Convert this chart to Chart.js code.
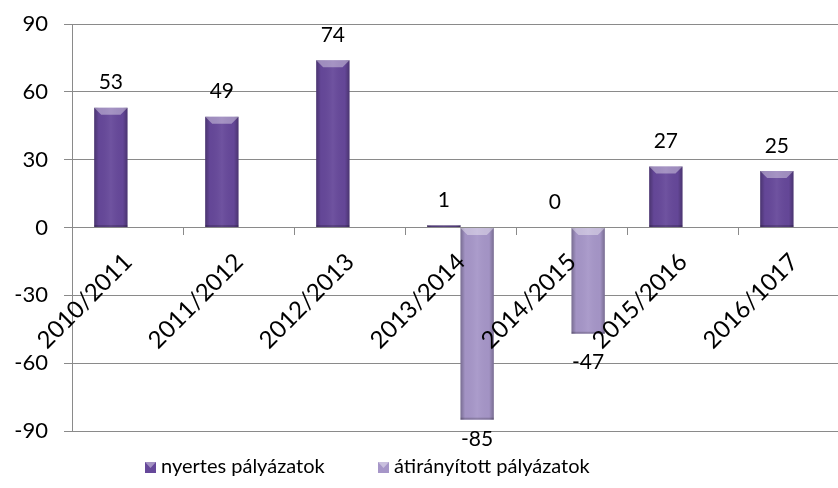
<!DOCTYPE html>
<html><head><meta charset="utf-8">
<script src="https://cdn.jsdelivr.net/npm/chart.js@4/dist/chart.umd.min.js"></script>
<style>html,body{margin:0;padding:0;overflow:hidden;background:#fff}#wrap{width:860px;height:488px;position:relative}</style>
</head><body><div id="wrap"><canvas id="c"></canvas></div>
<script>
const categories = ['2010/2011','2011/2012','2012/2013','2013/2014','2014/2015','2015/2016','2016/1017'];
const seriesNames = ['nyertes pályázatok','átirányított pályázatok'];
const nyertes = [53,49,74,1,0,27,25];
const atiranyitott = [null,null,null,-85,-47,null,null];
const yMin = -90, yMax = 90, yStep = 30;

const FONT = 'Lato, "Open Sans", sans-serif';
const darkCol = '#66489a';
const lightCol = '#a696c8';
const gridCol = '#8a8a8a';

const bevelPlugin = {
  id: 'bevel',
  afterDatasetsDraw(chart) {
    const ctx = chart.ctx;
    chart.data.datasets.forEach((ds, di) => {
      const meta = chart.getDatasetMeta(di);
      meta.data.forEach((el, i) => {
        if (ds.data[i] === null || ds.data[i] === undefined) return;
        const p = el.getProps(['x','y','base','width'], true);
        const l = p.x - p.width/2, r = p.x + p.width/2;
        const t = Math.min(p.y, p.base), b = Math.max(p.y, p.base);
        const h = b - t;
        if (h < 0.5) return;
        ctx.save();
        const g = ctx.createLinearGradient(l, 0, r, 0);
        g.addColorStop(0, 'rgba(0,0,0,0.28)');
        g.addColorStop(0.14, 'rgba(0,0,0,0.02)');
        g.addColorStop(0.5, 'rgba(255,255,255,0.06)');
        g.addColorStop(0.86, 'rgba(0,0,0,0.02)');
        g.addColorStop(1, 'rgba(0,0,0,0.28)');
        ctx.fillStyle = g;
        ctx.fillRect(l, t, r - l, h);
        const bv = Math.min(7, h/2);
        ctx.beginPath();
        ctx.moveTo(l, t); ctx.lineTo(r, t); ctx.lineTo(r - bv, t + bv); ctx.lineTo(l + bv, t + bv); ctx.closePath();
        ctx.fillStyle = 'rgba(255,255,255,0.38)';
        ctx.fill();
        ctx.fillStyle = 'rgba(0,0,0,0.18)';
        ctx.fillRect(l, b - 2, r - l, 2);
        ctx.restore();
      });
    });
  }
};

const labelPlugin = {
  id: 'labels',
  afterDatasetsDraw(chart) {
    const ctx = chart.ctx;
    const xs = chart.scales.x, ys = chart.scales.y;
    ctx.save();
    ctx.fillStyle = '#000';
    ctx.font = '21px ' + FONT;
    ctx.textAlign = 'center';
    ctx.textBaseline = 'middle';
    chart.data.datasets.forEach((ds, di) => {
      const meta = chart.getDatasetMeta(di);
      meta.data.forEach((el, i) => {
        const v = ds.data[i];
        if (v === null || v === undefined) return;
        const p = el.getProps(['x','y'], true);
        let y = v >= 0 ? p.y - 25 : Math.min(p.y + 28, chart.chartArea.bottom + 8);
        ctx.fillText(String(v), p.x, y);
      });
    });
    // category labels, rotated, hanging from the zero line
    const y0 = ys.getPixelForValue(0);
    ctx.font = '24px ' + FONT;
    categories.forEach((c, i) => {
      const x = xs.getPixelForValue(i);
      ctx.save();
      ctx.translate(x + 6, y0 + 36);
      ctx.rotate(-Math.PI/4);
      ctx.textAlign = 'right';
      ctx.textBaseline = 'alphabetic';
      ctx.fillText(c, 0, 0);
      ctx.restore();
    });
    ctx.restore();
  }
};

const legendPlugin = {
  id: 'customLegend',
  afterDraw(chart) {
    const ctx = chart.ctx;
    const xs = [145, 378];
    const cy = 467;
    ctx.save();
    ctx.font = '20px ' + FONT;
    ctx.textBaseline = 'middle';
    ctx.textAlign = 'left';
    chart.data.datasets.forEach((ds, i) => {
      const x = xs[i];
      ctx.fillStyle = ds.backgroundColor;
      ctx.fillRect(x, cy - 5, 11, 11);
      ctx.beginPath();
      ctx.moveTo(x, cy - 5); ctx.lineTo(x + 11, cy - 5); ctx.lineTo(x + 5.5, cy + 1); ctx.closePath();
      ctx.fillStyle = 'rgba(255,255,255,0.4)';
      ctx.fill();
      ctx.fillStyle = '#000';
      ctx.fillText(ds.label, x + 16, cy);
    });
    ctx.restore();
  }
};

new Chart(document.getElementById('c'), {
  type: 'bar',
  data: {
    labels: categories,
    datasets: [
      { label: seriesNames[0], data: nyertes, backgroundColor: darkCol, borderWidth: 0 },
      { label: seriesNames[1], data: atiranyitott, backgroundColor: lightCol, borderWidth: 0 }
    ]
  },
  options: {
    responsive: true,
    maintainAspectRatio: false,
    animation: false,
    categoryPercentage: 0.6,
    barPercentage: 1,
    layout: { padding: { left: 13, top: 24, right: 11, bottom: 57 } },
    plugins: { legend: { display: false }, tooltip: { enabled: false } },
    scales: {
      x: {
        position: { y: 0 },
        grid: { offset: true, drawOnChartArea: false, drawTicks: true, tickLength: 7, color: gridCol, lineWidth: 1 },
        border: { display: true, color: gridCol, width: 1 },
        ticks: { display: false },
        afterFit(s) { s.height = 0; s.paddingLeft = 0; s.paddingRight = 0; }
      },
      y: {
        min: yMin, max: yMax,
        ticks: { stepSize: yStep, color: '#000', font: { family: FONT, size: 22 }, padding: 16 },
        grid: { color: gridCol, lineWidth: 1, tickLength: 8 },
        border: { display: true, color: gridCol, width: 1 },
        afterFit(s) { s.width = 59; s.paddingTop = 10; s.paddingBottom = 10; }
      }
    }
  },
  plugins: [bevelPlugin, labelPlugin, legendPlugin]
});
</script>
</body></html>
